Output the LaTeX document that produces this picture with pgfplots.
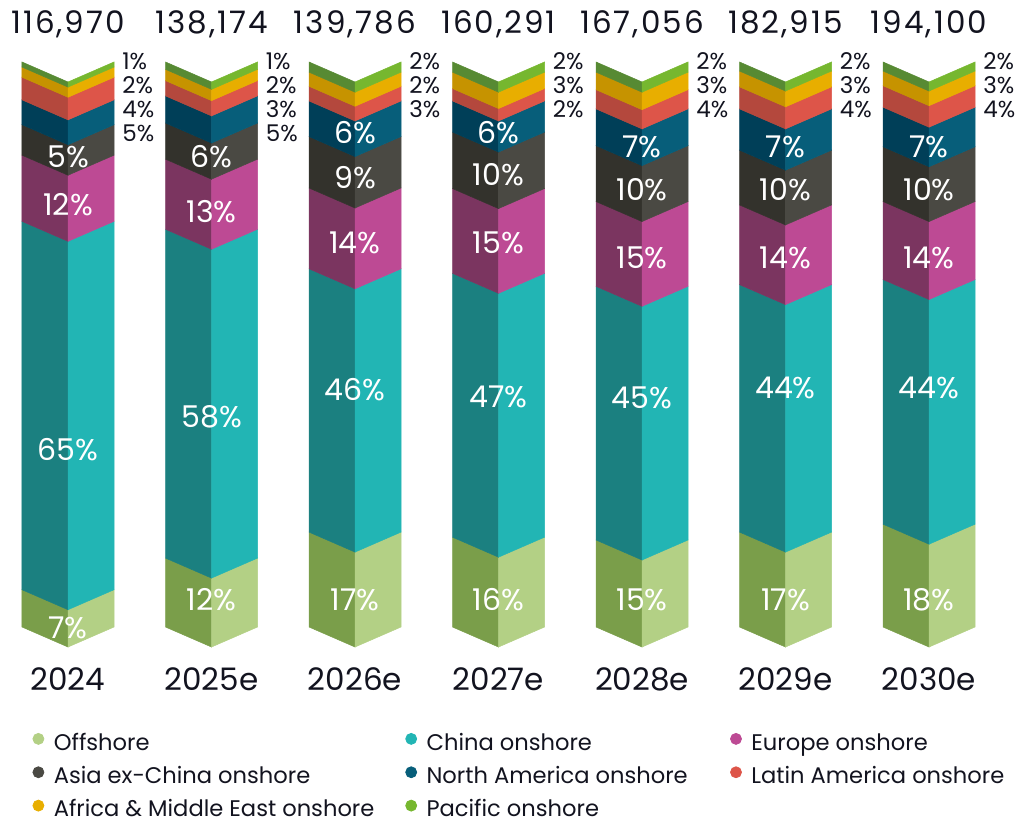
\documentclass[border=0pt]{standalone}
\usepackage{fontspec}
\setmainfont{Poppins}
\newfontfamily\numfont[LetterSpace=6.5]{Poppins}
\usepackage{pgfplots}
\pgfplotsset{compat=1.18}
\usepackage{pgfplotstable}

\definecolor{offL}{HTML}{7A9E4A}\definecolor{offR}{HTML}{B3D085}
\definecolor{chnL}{HTML}{1B8080}\definecolor{chnR}{HTML}{22B5B4}
\definecolor{eurL}{HTML}{7B3560}\definecolor{eurR}{HTML}{BD4A94}
\definecolor{asiL}{HTML}{33322C}\definecolor{asiR}{HTML}{4A4943}
\definecolor{namL}{HTML}{003F58}\definecolor{namR}{HTML}{075E7A}
\definecolor{lamL}{HTML}{B4483D}\definecolor{lamR}{HTML}{DD5549}
\definecolor{afrL}{HTML}{C69300}\definecolor{afrR}{HTML}{E8AE00}
\definecolor{pacL}{HTML}{578A33}\definecolor{pacR}{HTML}{76B72F}
\definecolor{txt}{HTML}{12131F}

% shares (%) of each year, bottom to top
\pgfplotstableread{
idx off chn eur asi nam lam afr pac
0 6.6 65.2 11.7 5.4 4.4 4.0 1.8 0.9
1 12.2 58.2 12.4 6.4 4.8 2.7 2.0 1.3
2 16.8 46.6 14.3 9.1 6.3 2.6 2.5 1.8
3 15.9 46.7 15.0 10.0 5.5 2.2 2.9 1.8
4 15.4 44.9 15.0 9.9 6.5 3.4 3.1 1.8
5 16.8 43.8 14.1 9.7 7.3 3.9 2.8 1.6
6 18.2 43.3 13.8 9.7 7.0 3.8 2.6 1.6
}\shares

\newcommand\hw{0.3206}
\newcommand\dep{3.54}
\newcommand\topf{\fontsize{15.5}{18}\selectfont}
\newcommand\totf{\numfont\fontsize{15.5}{18}\selectfont}
\newcommand\insf{\fontsize{15}{18}\selectfont}
\newcommand\outf{\fontsize{11.5}{14}\selectfont}
\newcommand\inl[3]{\node[text=white,font=\insf,anchor=center] at (axis cs:#1,#2) {#3\%};}
\newcommand\outl[3]{\node[text=txt,font=\outf,anchor=west,inner sep=0pt] at (axis cs:#1,#2) {#3\%};}
\newcommand\lstrut{\rule[-2.6pt]{0pt}{12.09pt}}

\begin{document}
\begin{tikzpicture}
\useasboundingbox (0,0) rectangle (508.5pt,412.5pt);
\begin{axis}[
  at={(0,0)}, anchor=south west,
  scale only axis, width=508.5pt, height=412.5pt,
  xmin=-0.4739, xmax=6.6132, ymin=-35.04, ymax=110.97,
  hide axis, clip=false,
  legend columns=3,
  legend cell align=left,
  legend image code/.code={\fill[#1] (2.75pt,1.6pt) circle (2.75pt);},
  legend style={at={(axis cs:-0.2474,-18.42)}, anchor=north west,
    draw=none, fill=none, inner sep=0pt, outer sep=0pt,
    font=\fontsize{11.3}{13.56}\selectfont, text=txt,
    row sep=5.69pt, column sep=0pt,
    /tikz/every odd column/.append style={column sep=4.75pt},
    nodes={inner sep=0pt}},
]
\foreach \i in {0,...,6}{
  \xdef\cum{0}
  \foreach \s in {off,chn,eur,asi,nam,lam,afr,pac}{
    \pgfplotstablegetelem{\i}{\s}\of\shares
    \pgfmathsetmacro\lo{\cum}
    \pgfmathsetmacro\hi{\cum+\pgfplotsretval}
    \pgfmathsetmacro\xl{\i-\hw}
    \pgfmathsetmacro\xr{\i+\hw}
    \pgfmathsetmacro\lod{\lo-\dep}
    \pgfmathsetmacro\hid{\hi-\dep}
    \edef\tmp{\noexpand\addplot[forget plot, fill=\s L, draw=\s L, line width=0.25pt] coordinates {(\xl,\lo) (\i,\lod) (\i,\hid) (\xl,\hi)} -- cycle;
      \noexpand\addplot[forget plot, fill=\s R, draw=\s R, line width=0.25pt] coordinates {(\i,\lod) (\xr,\lo) (\xr,\hi) (\i,\hid)} -- cycle;}
    \tmp
    \xdef\cum{\hi}
  }
}

\addlegendimage{offR}\addlegendentry{\makebox[175.75pt][l]{Offshore\strut}}
\addlegendimage{chnR}\addlegendentry{\makebox[151.75pt][l]{China onshore\strut}}
\addlegendimage{eurR}\addlegendentry{Europe onshore\strut}
\addlegendimage{asiR}\addlegendentry{\makebox[175.75pt][l]{Asia ex-China onshore\strut}}
\addlegendimage{namR}\addlegendentry{\makebox[151.75pt][l]{North America onshore\strut}}
\addlegendimage{lamR}\addlegendentry{Latin America onshore\strut}
\addlegendimage{afrR}\addlegendentry{\makebox[175.75pt][l]{Africa \& Middle East onshore\lstrut}}
\addlegendimage{pacR}\addlegendentry{\makebox[151.75pt][l]{Pacific onshore\lstrut}}

% totals
\node[font=\totf,text=txt,anchor=base] at (axis cs:0,105.07) {116,970};
\node[font=\totf,text=txt,anchor=base] at (axis cs:1,105.07) {138,174};
\node[font=\totf,text=txt,anchor=base] at (axis cs:2,105.07) {139,786};
\node[font=\totf,text=txt,anchor=base] at (axis cs:3,105.07) {160,291};
\node[font=\totf,text=txt,anchor=base] at (axis cs:4,105.07) {167,056};
\node[font=\totf,text=txt,anchor=base] at (axis cs:5,105.07) {182,915};
\node[font=\totf,text=txt,anchor=base] at (axis cs:6,105.07) {194,100};
% years
\node[font=\topf,text=txt,anchor=base] at (axis cs:0,-11.15) {2024};
\node[font=\topf,text=txt,anchor=base] at (axis cs:1,-11.15) {2025e};
\node[font=\topf,text=txt,anchor=base] at (axis cs:2,-11.15) {2026e};
\node[font=\topf,text=txt,anchor=base] at (axis cs:3,-11.15) {2027e};
\node[font=\topf,text=txt,anchor=base] at (axis cs:4,-11.15) {2028e};
\node[font=\topf,text=txt,anchor=base] at (axis cs:5,-11.15) {2029e};
\node[font=\topf,text=txt,anchor=base] at (axis cs:6,-11.15) {2030e};

% outside labels
\outl{0.376}{100.18}{1}\outl{0.376}{95.93}{2}\outl{0.376}{91.68}{4}\outl{0.376}{87.43}{5}
\outl{1.376}{100.18}{1}\outl{1.376}{95.93}{2}\outl{1.376}{91.68}{3}\outl{1.376}{87.43}{5}
\outl{2.376}{100.18}{2}\outl{2.376}{95.93}{2}\outl{2.376}{91.68}{3}
\outl{3.376}{100.18}{2}\outl{3.376}{95.93}{3}\outl{3.376}{91.68}{2}
\outl{4.376}{100.18}{2}\outl{4.376}{95.93}{3}\outl{4.376}{91.68}{4}
\outl{5.376}{100.18}{2}\outl{5.376}{95.93}{3}\outl{5.376}{91.68}{4}
\outl{6.376}{100.18}{2}\outl{6.376}{95.93}{3}\outl{6.376}{91.68}{4}

% inside labels
\inl{0}{83.19}{5}\inl{0}{74.69}{12}\inl{0}{31.33}{65}\inl{0}{-0.18}{7}
\inl{1}{83.19}{6}\inl{1}{73.45}{13}\inl{1}{37.17}{58}\inl{1}{4.78}{12}
\inl{2}{87.43}{6}\inl{2}{79.47}{9}\inl{2}{67.96}{14}\inl{2}{41.95}{46}\inl{2}{4.78}{17}
\inl{3}{87.43}{6}\inl{3}{80.00}{10}\inl{3}{67.96}{15}\inl{3}{40.71}{47}\inl{3}{4.78}{16}
\inl{4}{84.96}{7}\inl{4}{77.35}{10}\inl{4}{65.31}{15}\inl{4}{40.53}{45}\inl{4}{4.78}{15}
\inl{5}{84.96}{7}\inl{5}{77.35}{10}\inl{5}{65.31}{14}\inl{5}{42.30}{44}\inl{5}{4.78}{17}
\inl{6}{84.96}{7}\inl{6}{77.35}{10}\inl{6}{65.31}{14}\inl{6}{42.30}{44}\inl{6}{4.78}{18}
\end{axis}
\end{tikzpicture}
\end{document}
